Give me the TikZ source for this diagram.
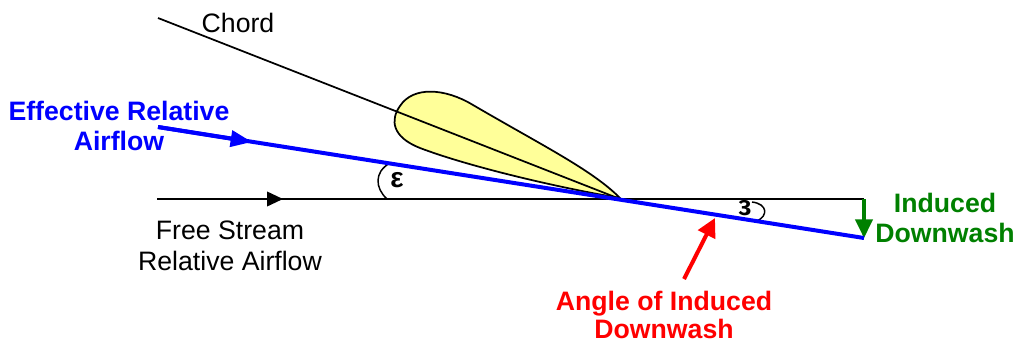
\documentclass[tikz,border=0pt]{standalone}
\usepackage{fontspec}
\setmainfont{Liberation Sans}
\usetikzlibrary{arrows.meta}
\definecolor{foil}{RGB}{255,255,153}
\definecolor{washgreen}{RGB}{0,128,0}
\tikzset{
  lbl/.style={font=\fontsize{20}{23}\selectfont,align=center,inner sep=0pt},
  boldlbl/.style={lbl,font=\fontsize{20}{23}\selectfont\bfseries},
  eps/.style={inner sep=0pt,font=\fontsize{21}{22}\selectfont\bfseries},
  tip/.style={-{Triangle[length=12pt,width=11pt]}},
}
\begin{document}
\begin{tikzpicture}[x=0.75pt,y=-0.75pt]
        \useasboundingbox (0,0) rectangle (1017,343);
        % airfoil
        \draw [fill=foil,line width=1.3pt] (620,198) .. controls (592,170) and (545,147) .. (473,105)
              .. controls (445,88) and (413,86) .. (400,106)
              .. controls (390,120) and (392,137) .. (420,148)
              .. controls (470,167) and (560,188) .. (620,198) -- cycle;
        \coordinate (chordL) at (158,18);
        \coordinate (chordR) at (620,199);
        \coordinate (freeL) at (157,199);
        \coordinate (freeM) at (283,199);
        \coordinate (freeR) at (864,199);
        \coordinate (effL) at (158,127);
        \coordinate (effM) at (252,142);
        \coordinate (effR) at (864,238);
        \coordinate (redS) at (684,279);
        \coordinate (redE) at (715,218);
        \draw [line width=1.3pt] (chordL) -- (chordR);
        \draw [line width=1.3pt] (freeL) -- (freeR);
        \draw [line width=1.3pt,tip] (freeL) -- (freeM);
        \draw [line width=1.1pt] (390,163) .. controls (374,172) and (375,188) .. (387,199);
        \draw [line width=1.1pt] (752,202) .. controls (768,204) and (768,216) .. (757,221);
        \draw [washgreen,line width=2.4pt,-{Triangle[length=14pt,width=13pt]}] (freeR) -- (effR);
        \draw [blue,line width=3pt] (effL) -- (effR);
        \draw [blue,line width=3pt,-{Triangle[length=16pt,width=12pt]}] (effL) -- (effM);
        \draw [red,line width=3pt,-{Triangle[length=14pt,width=14pt]}] (redS) -- (redE);
        \node [lbl] (chord) at (238,23) {Chord};
        \node [lbl] (free) at (230,246) {Free Stream\\Relative Airflow};
        \node [boldlbl,blue] (effective) at (119,126) {Effective Relative\\Airflow};
        \node [boldlbl,washgreen] (induced) at (945,218) {Induced\\Downwash};
        \node [boldlbl,red,font=\fontsize{20}{21.5}\selectfont\bfseries] (angle) at (664,315) {Angle of Induced\\Downwash};
        \node [eps] (epsL) at (397,180) {ε};
        \node [eps,transform shape,xscale=-1] (epsR) at (745,208) {ε};
\end{tikzpicture}
\end{document}
